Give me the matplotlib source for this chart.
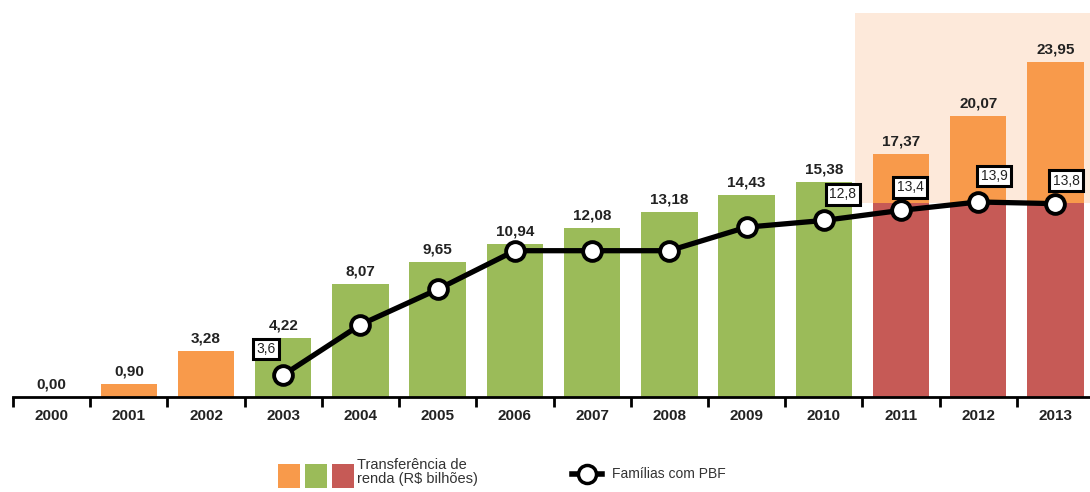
"""Bolsa Familia: transferencia de renda e familias atendidas, 2000-2013."""

import matplotlib
matplotlib.use("Agg")
import matplotlib.pyplot as plt
from matplotlib.patches import Rectangle
from matplotlib.lines import Line2D

plt.rcParams["font.family"] = ["Liberation Sans", "DejaVu Sans"]

years = ["2000", "2001", "2002", "2003", "2004", "2005", "2006",
         "2007", "2008", "2009", "2010", "2011", "2012", "2013"]
transfer = [0.00, 0.90, 3.28, 4.22, 8.07, 9.65, 10.94,
            12.08, 13.18, 14.43, 15.38, 17.37, 20.07, 23.95]
ORANGE, GREEN, RED = "#f89a4b", "#9bbb59", "#c65a56"
bar_colors = [ORANGE] * 3 + [GREEN] * 8 + [ORANGE] * 3
# lower red part of the 2011-2013 bars
red_years = [11, 12, 13]
red_part = [13.86, 13.86, 13.86]

line_years = [3, 4, 5, 6, 7, 8, 9, 10, 11, 12, 13]
families = [3.6, 6.6, 8.7, 11.0, 11.0, 11.0, 12.4, 12.8, 13.4, 13.9, 13.8]
boxed = {3: "3,6", 10: "12,8", 11: "13,4", 12: "13,9", 13: "13,8"}
box_offsets = {3: (-17, 26), 10: (19, 26), 11: (9, 23), 12: (16, 26), 13: (11, 23)}

fig = plt.figure(figsize=(10.9, 4.92), dpi=100)
ax = fig.add_axes([13 / 1090, 1 - 397 / 492, 1081 / 1090, 387 / 492])
ax.set_xlim(-0.5, 13.5)
ax.set_ylim(0, 387 / 14)

# shaded highlight for 2011-2013
ax.add_patch(Rectangle((10.4, red_part[0]), 3.1, 27.4 - red_part[0],
                       facecolor="#fde9da", edgecolor="none", zorder=0))

x = list(range(len(years)))
ax.bar(x, transfer, width=0.73, color=bar_colors, zorder=2)
ax.bar(red_years, red_part, width=0.73, color=RED, zorder=2)

for xi, val in zip(x, transfer):
    ax.annotate(f"{val:.2f}".replace(".", ","), (xi, val), xytext=(0, 4),
                textcoords="offset points", ha="center", va="bottom",
                fontsize=11, fontweight="bold", color="#222222")

for side in ["top", "left", "right"]:
    ax.spines[side].set_visible(False)
ax.spines["bottom"].set_linewidth(2)
ax.set_yticks([])
ax.set_xticks(x)
ax.set_xticklabels(years, fontsize=11, fontweight="bold", color="#222222")
ax.tick_params(axis="x", which="major", length=0, pad=9)
ax.set_xticks([i - 0.5 for i in range(len(years))], minor=True)
ax.tick_params(axis="x", which="minor", length=7, width=2, direction="out")

# families line on its own scale
ax2 = ax.twinx()
ax2.set_ylim((435.5 - 397) / 16.8, (435.5 - 10) / 16.8)
ax2.axis("off")
ax2.plot(line_years, families, color="black", lw=3.8, marker="o", ms=13.5,
         mfc="white", mec="black", mew=2.8, zorder=5)
for xi, val in zip(line_years, families):
    if xi in boxed:
        dx, dy = box_offsets[xi]
        ax2.annotate(boxed[xi], (xi, val), xytext=(dx * 0.72, dy * 0.72),
                     textcoords="offset points", ha="center", va="center",
                     fontsize=10, color="#222222",
                     bbox=dict(boxstyle="square,pad=0.25", fc="white",
                               ec="black", lw=2.2))

# legend drawn by hand
for i, c in enumerate([ORANGE, GREEN, RED]):
    fig.patches.append(Rectangle(((278 + i * 27) / 1090, 1 - 488 / 492),
                                 22 / 1090, 24 / 492, transform=fig.transFigure,
                                 facecolor=c, edgecolor="none"))
fig.text(357 / 1090, 1 - 472 / 492, "Transferência de\nrenda (R$ bilhões)",
         fontsize=10.5, color="#333333", va="center", ha="left", linespacing=1.05)
fig.lines.append(Line2D([572 / 1090, 602 / 1090], [1 - 474 / 492] * 2,
                        transform=fig.transFigure, color="black", lw=4))
fig.lines.append(Line2D([587 / 1090], [1 - 474 / 492], transform=fig.transFigure,
                        marker="o", ms=13, mfc="white", mec="black", mew=2.5))
fig.text(612 / 1090, 1 - 474 / 492, "Famílias com PBF", fontsize=10,
         color="#333333", va="center", ha="left")

fig.savefig("out.png", dpi=100)
